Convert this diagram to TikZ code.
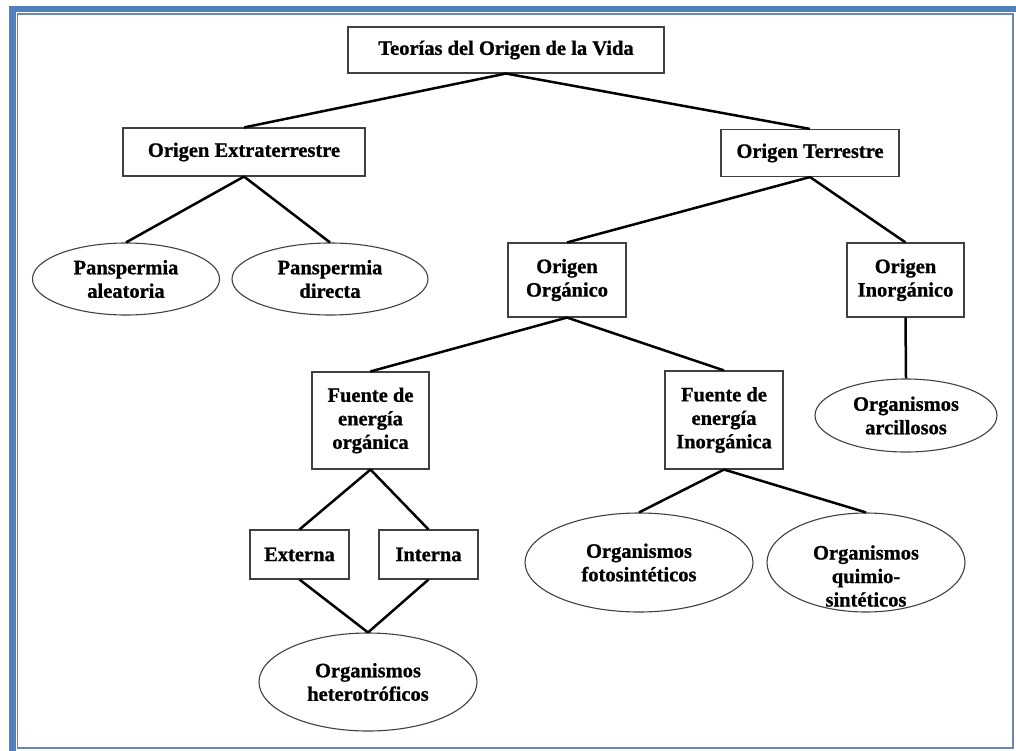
\documentclass[tikz,border=0pt]{standalone}
\usepackage{fontspec}
\setmainfont{Liberation Serif}[BoldFeatures={FakeBold=0.9}]
\usetikzlibrary{shapes.geometric}
\definecolor{framebl}{RGB}{79,129,189}
\definecolor{frameln}{RGB}{105,135,178}
\tikzset{
  words/.style={align=center, font=\bfseries\fontsize{20.5}{23.5}\selectfont},
  box/.style={words, draw=black!75, line width=1.1pt, inner sep=0pt},
  blob/.style={box, ellipse},
  link/.style={line width=2.5pt, black},
}
\begin{document}
\begin{tikzpicture}[x=1pt,y=-1pt]
      \useasboundingbox (0,0) rectangle (1016,751);
      \fill[framebl] (9,6) rectangle (1016,12.5);
      \fill[framebl] (9,6) rectangle (15.5,751);
      \draw[frameln, line width=1.2pt] (17.5,14) rectangle (1013,748);
      \node[box, minimum width=316, minimum height=46] (vida) at (506,50) {Teorías del Origen de la Vida};
      \node[box, minimum width=242, minimum height=48] (extra) at (244,152) {Origen Extraterrestre};
      \node[box, minimum width=178, minimum height=47] (terr) at (810,153) {Origen Terrestre};
      \node[blob, minimum width=187, minimum height=72] (alea) at (126,279) {Panspermia\\aleatoria};
      \node[blob, minimum width=196, minimum height=72] (dir) at (330,279) {Panspermia\\directa};
      \node[box, minimum width=118, minimum height=74] (org) at (567,280) {Origen\\Orgánico};
      \node[box, minimum width=117, minimum height=74] (inorg) at (905.5,280) {Origen\\Inorgánico};
      \node[box, minimum width=117, minimum height=97] (fuorg) at (370.5,420.5) {Fuente de\\energía\\orgánica};
      \node[box, minimum width=118, minimum height=98] (fuinorg) at (724,420) {Fuente de\\energía\\Inorgánica};
      \node[blob, minimum width=182, minimum height=73] (arc) at (906,415.5) {Organismos\\arcillosos};
      \node[box, minimum width=99, minimum height=49] (ext) at (299.5,554.5) {Externa};
      \node[box, minimum width=99, minimum height=49] (int) at (428.5,554.5) {Interna};
      \node[blob, minimum width=218, minimum height=98] (het) at (368,682) {Organismos\\heterotróficos};
      \node[blob, minimum width=228, minimum height=99] (foto) at (639,562.5) {Organismos\\fotosintéticos};
      \node[blob, minimum width=198, minimum height=99] (quim) at (866,562.5) {};
      \node[words] (quimtext) at (866,576) {Organismos\\quimio-\\sintéticos};
      \begin{scope}[link]
        \draw (vida.south) to (extra.north);
        \draw (vida.south) to (terr.north);
        \draw (extra.south) to (alea.north);
        \draw (extra.south) to (dir.north);
        \draw (terr.south) to (org.north);
        \draw (terr.south) to (inorg.north);
        \draw (org.south) to (fuorg.north);
        \draw (org.south) to (fuinorg.north);
        \draw (inorg.south) to (arc.north);
        \draw (fuorg.south) to (ext.north);
        \draw (fuorg.south) to (int.north);
        \draw (ext.south) to (het.north);
        \draw (int.south) to (het.north);
        \draw (fuinorg.south) to (foto.north);
        \draw (fuinorg.south) to (quim.north);
      \end{scope}
    \end{tikzpicture}
\end{document}
